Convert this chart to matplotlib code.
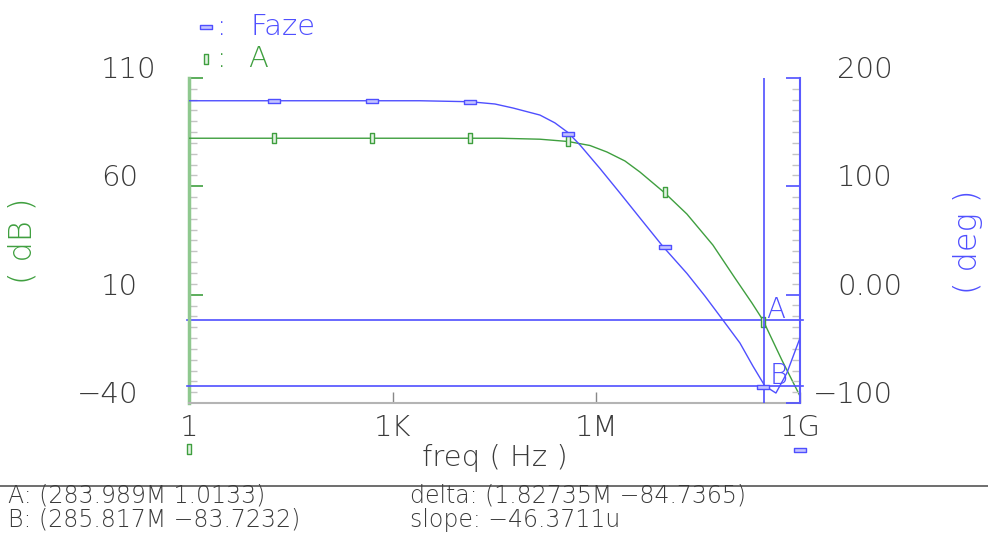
import numpy as np
import matplotlib
matplotlib.use("Agg")
import matplotlib.pyplot as plt
from matplotlib import transforms as mtrans
from matplotlib.lines import Line2D
from matplotlib.path import Path
from matplotlib.ticker import FixedLocator, NullLocator

W, H, DPI = 988, 538, 100

# ---------------- data ----------------
freq_a = [1, 3.80e4, 1.476e5, 3.82e5, 8.05e5, 1.432e6, 2.64e6, 4.39e6,
          1.023e7, 2.16e7, 5.21e7, 1.099e8, 1.96e8, 2.84e8, 5.41e8, 1.0e9]
gain_db = [82.2, 82.2, 81.75, 80.7, 78.85, 75.85, 71.7, 66.6,
           56.9, 47.2, 32.9, 17.7, 6.15, -1.7, -20.2, -36.8]

freq_p = [1, 2.52e3, 1.374e4, 3.21e4, 5.92e4, 1.476e5, 2.45e5, 3.82e5,
          5.74e5, 1.13e6, 2.23e6, 4.39e6, 9.57e6, 2.16e7, 3.97e7, 7.31e7,
          1.303e8, 2.02e8, 3.04e8, 4.42e8, 6.41e8, 1.0e9]
phase_deg = [179, 179, 178.1, 176.0, 172.3, 165.8, 158.6, 149.7,
             138.2, 116.5, 93.8, 70.8, 44.5, 19.6, -1.2, -23.4,
             -44.6, -65.8, -84.3, -90.8, -72.3, -40.0]

mark_freq = [17.8, 490, 1.38e4, 3.80e5, 1.02e7, 2.84e8]
mark_gain = [82.2, 82.2, 82.2, 81.1, 57.4, -2.5]
mark_phase = [179, 179, 178, 148, 44, -85]

cursor_freq = 2.9e8
cursor_a_db = -1.7
cursor_b_deg = -84.5

left_ticks = [110, 60, 10, -40]
left_labels = ["110", "60", "10", "\u221240"]
right_ticks = [200, 100, 0, -100]
right_labels = ["200", "100", "0.00", "\u2212100"]
x_ticks = [1, 1e3, 1e6, 1e9]
x_labels = ["1", "1K", "1M", "1G"]

info_left = ["A: (283.989M 1.0133)", "B: (285.817M \u221283.7232)"]
info_right = ["delta: (1.82735M \u221284.7365)", "slope: \u221246.3711u"]

# ---------------- style ----------------
BLUE = "#4f4fff"
GREEN = "#3f9f3f"
TXT = "#3a3a3a"
FONT = dict(family=["DejaVu Sans"], fontweight=200)

fig = plt.figure(figsize=(W / DPI, H / DPI), dpi=DPI)
fig.patch.set_facecolor("white")


def fx(x):
    return x / W


def fy(y):
    return 1 - y / H


ax = fig.add_axes([fx(189), fy(403), (800 - 189) / W, (403 - 78) / H])
ax2 = ax.twinx()
ax.set_xscale("log")
ax.set_xlim(1, 1e9)
ax.set_ylim(-40, 110)
ax2.set_ylim(-100, 200)

for a in (ax, ax2):
    a.spines["top"].set_visible(False)
ax.spines["right"].set_visible(False)
ax2.spines["left"].set_visible(False)
ax2.spines["bottom"].set_visible(False)
ax.spines["left"].set_color("#8fc88f")
ax.spines["left"].set_linewidth(2.5)
ax2.spines["right"].set_color("#5a5aff")
ax2.spines["right"].set_linewidth(1.5)
ax.spines["bottom"].set_color("#b4b4b4")
ax.spines["bottom"].set_linewidth(1.5)

ax.yaxis.set_major_locator(FixedLocator(left_ticks))
ax.yaxis.set_minor_locator(FixedLocator(np.arange(-40, 111, 5)))
ax2.yaxis.set_major_locator(FixedLocator(right_ticks))
ax2.yaxis.set_minor_locator(FixedLocator(np.arange(-100, 201, 10)))
ax.xaxis.set_major_locator(FixedLocator(x_ticks))
ax.xaxis.set_minor_locator(NullLocator())

ax.tick_params(axis="y", which="major", direction="in", length=10, width=1.2,
               color=GREEN, labelleft=False)
ax.tick_params(axis="y", which="minor", direction="in", length=6, width=1.0,
               color="#c4c4c4")
ax2.tick_params(axis="y", which="major", direction="in", length=10, width=1.2,
                color=BLUE, labelright=False)
ax2.tick_params(axis="y", which="minor", direction="in", length=6, width=1.0,
                color="#c4c4c4")
ax.tick_params(axis="x", which="major", direction="in", length=8, width=1.0,
               color="#888888", labelbottom=False)

# traces
ax.plot(freq_a, gain_db, color=GREEN, lw=1.0, zorder=3)
ax2.plot(freq_p, phase_deg, color=BLUE, lw=1.0, zorder=3)

rect_v = Path([(-0.4, -1), (0.4, -1), (0.4, 1), (-0.4, 1), (-0.4, -1)],
              [Path.MOVETO, Path.LINETO, Path.LINETO, Path.LINETO, Path.CLOSEPOLY])
rect_h = Path([(-1, -0.35), (1, -0.35), (1, 0.35), (-1, 0.35), (-1, -0.35)],
              [Path.MOVETO, Path.LINETO, Path.LINETO, Path.LINETO, Path.CLOSEPOLY])

ax.plot(mark_freq, mark_gain, ls="none", marker=rect_v, ms=7.5, mew=1.0,
        mec=GREEN, mfc="#e2f2e2", zorder=4)
ax2.plot(mark_freq, mark_phase, ls="none", marker=rect_h, ms=9.0, mew=1.0,
         mec=BLUE, mfc="#c4c4ff", zorder=4)

# cursors
ax2.axvline(cursor_freq, color=BLUE, lw=1.2, zorder=2)
ax.axhline(cursor_a_db, xmin=-0.004, xmax=1.005, color=BLUE, lw=1.2,
           clip_on=False, zorder=2)
ax2.axhline(cursor_b_deg, xmin=-0.004, xmax=1.005, color=BLUE, lw=1.2,
            clip_on=False, zorder=2)

# y tick labels (baseline on the tick)
tl = mtrans.blended_transform_factory(fig.transFigure, ax.transData)
for v, s in zip(left_ticks, left_labels):
    x0 = 101 - (24 if s.startswith("\u2212") else 0)
    ax.text(fx(x0), v, s, transform=tl, ha="left", va="baseline",
            fontsize=21, color=TXT, clip_on=False, **FONT)
tr = mtrans.blended_transform_factory(fig.transFigure, ax2.transData)
for v, s in zip(right_ticks, right_labels):
    x0 = 837 - (24 if s.startswith("\u2212") else 0)
    ax2.text(fx(x0), v, s, transform=tr, ha="left", va="baseline",
             fontsize=21, color=TXT, clip_on=False, **FONT)

# x tick labels
tx = mtrans.blended_transform_factory(ax.transData, fig.transFigure)
for v, s in zip(x_ticks, x_labels):
    ax.text(v, fy(436), s, transform=tx, ha="center", va="baseline",
            fontsize=21, color=TXT, clip_on=False, **FONT)

fig.text(fx(495), fy(466), "freq ( Hz )", ha="center", va="baseline",
         fontsize=21, color=TXT, **FONT)

# axis titles
fig.text(fx(22), fy(241), "( dB )", rotation=90, ha="center", va="center",
         fontsize=23, color=GREEN, **FONT)
fig.text(fx(968), fy(242), "( deg )", rotation=90, ha="center", va="center",
         fontsize=23, color=BLUE, **FONT)

# legend
fig.add_artist(Line2D([fx(206)], [fy(27)], ls="none", marker=rect_h, ms=9,
                      mec=BLUE, mfc="#c4c4ff", mew=1.0, transform=fig.transFigure))
fig.text(fx(222), fy(35), ":", ha="center", va="baseline", fontsize=20,
         color=BLUE, **FONT)
fig.text(fx(250), fy(35), "Faze", ha="left", va="baseline", fontsize=21,
         color=BLUE, **FONT)
fig.add_artist(Line2D([fx(206)], [fy(59)], ls="none", marker=rect_v, ms=7,
                      mec=GREEN, mfc="#e2f2e2", mew=1.0, transform=fig.transFigure))
fig.text(fx(222), fy(67), ":", ha="center", va="baseline", fontsize=20,
         color=GREEN, **FONT)
fig.text(fx(248), fy(67), "A", ha="left", va="baseline", fontsize=21,
         color=GREEN, **FONT)

# cursor labels
fig.text(fx(776), fy(318), "A", ha="center", va="baseline", fontsize=20,
         color=BLUE, **FONT)
fig.text(fx(779), fy(384), "B", ha="center", va="baseline", fontsize=20,
         color=BLUE, **FONT)

# small trace identifiers below the axis
fig.add_artist(Line2D([fx(189)], [fy(449)], ls="none", marker=rect_v, ms=7,
                      mec=GREEN, mfc="#e2f2e2", mew=1.0, transform=fig.transFigure))
fig.add_artist(Line2D([fx(800)], [fy(450)], ls="none", marker=rect_h, ms=9,
                      mec=BLUE, mfc="#c4c4ff", mew=1.0, transform=fig.transFigure))

# separator and cursor readout
fig.add_artist(Line2D([0, 1], [fy(486), fy(486)], color="#555555", lw=1.2,
                      transform=fig.transFigure))
for i, s in enumerate(info_left):
    fig.text(fx(8), fy(502 + 25 * i), s, ha="left", va="baseline",
             fontsize=17, color=TXT, **FONT)
for i, s in enumerate(info_right):
    fig.text(fx(410), fy(502 + 25 * i), s, ha="left", va="baseline",
             fontsize=17, color=TXT, **FONT)

fig.savefig("out.png", dpi=DPI, facecolor="white")
